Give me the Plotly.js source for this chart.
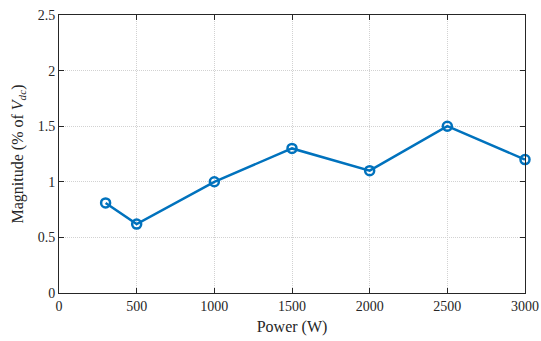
<!DOCTYPE html>
<html><head><meta charset="utf-8">
<script src="https://cdn.plot.ly/plotly-3.0.1.min.js"></script>
<style>html,body{margin:0;padding:0;background:#fff}#c{width:541px;height:341px}</style>
</head><body><div id="c"></div>
<script>
const power = [300, 500, 1000, 1500, 2000, 2500, 3000];
const magnitude = [0.81, 0.62, 1.0, 1.3, 1.1, 1.5, 1.2];
const xTicks = [0, 500, 1000, 1500, 2000, 2500, 3000];
const yTicks = [0, 0.5, 1, 1.5, 2, 2.5];

const font = {family: '"Liberation Serif", "Times New Roman", serif', size: 14, color: '#262626'};
const axisCommon = {
  showline: true, mirror: 'ticks', linecolor: '#262626', linewidth: 1,
  ticks: 'inside', ticklen: 5, tickcolor: '#262626',
  showgrid: true, gridcolor: '#d2d2d2', griddash: '1px,1px', gridwidth: 1,
  zeroline: false, tickfont: font
};
Plotly.newPlot('c', [{
  x: power, y: magnitude, type: 'scatter', mode: 'lines+markers', cliponaxis: false,
  line: {color: '#0072BD', width: 2.5},
  marker: {symbol: 'circle-open', size: 9, color: '#0072BD', line: {width: 2.5, color: '#0072BD'}}
}], {
  width: 541, height: 341,
  margin: {l: 59, r: 16, t: 15, b: 48},
  paper_bgcolor: '#fff', plot_bgcolor: '#fff',
  font: font, showlegend: false,
  xaxis: Object.assign({}, axisCommon, {
    range: [0, 3000], tickvals: xTicks, ticktext: xTicks.map(String),
    title: {text: 'Power (W)', font: {family: font.family, size: 16, color: '#262626'}, standoff: 8}
  }),
  yaxis: Object.assign({}, axisCommon, {
    range: [0, 2.5], tickvals: yTicks, ticktext: yTicks.map(String),
    title: {text: 'Magnitude (% of <i>V</i><sub><i>dc</i></sub>)', font: {family: font.family, size: 16, color: '#262626'}, standoff: 10}
  })
}, {displayModeBar: false, staticPlot: true});
</script></body></html>
